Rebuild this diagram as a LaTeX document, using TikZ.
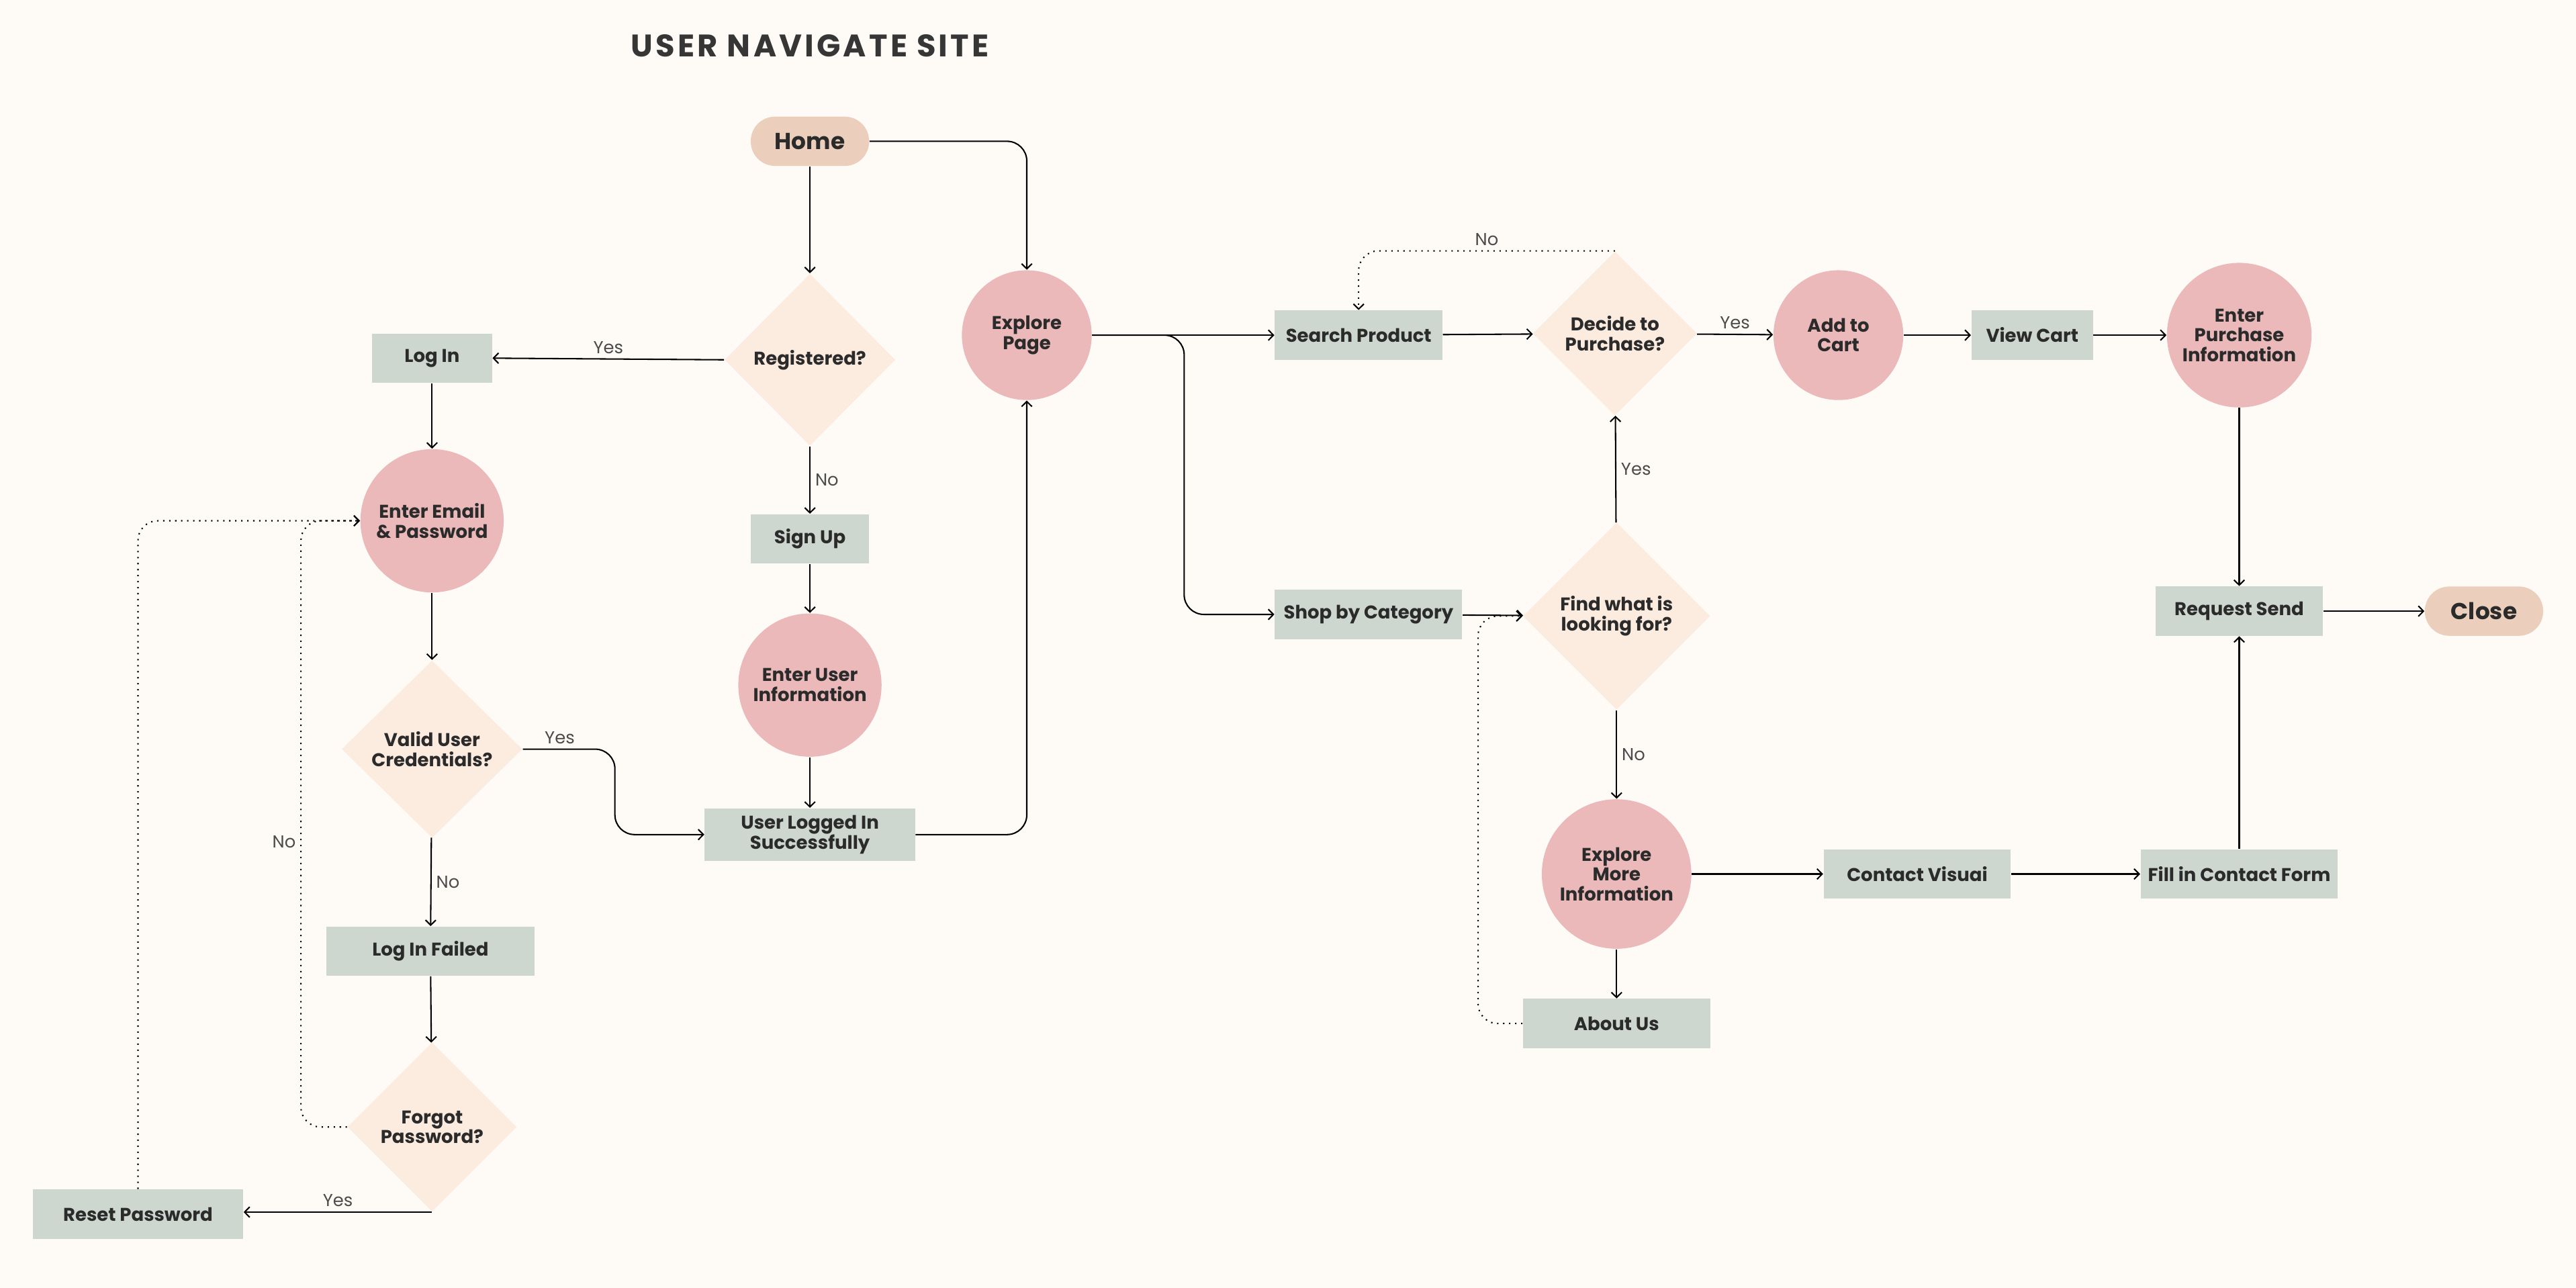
\documentclass[tikz,border=0pt]{standalone}
\usepackage{fontspec}
\setmainfont{Poppins}
\usetikzlibrary{arrows.meta,shapes.geometric,positioning}
\definecolor{paper}{HTML}{FEFBF7}
\definecolor{pillcol}{HTML}{EBCFBC}
\definecolor{diacol}{HTML}{FCEBDF}
\definecolor{circol}{HTML}{EBB9B9}
\definecolor{boxcol}{HTML}{CDD7CF}
\definecolor{ink}{HTML}{2B2B2B}
\tikzstyle{txt} = [text=ink, font=\bfseries\fontsize{8}{8.6}\selectfont, align=center, inner sep=0pt]
\tikzstyle{pill} = [txt, rectangle, rounded corners=0.37cm, fill=pillcol, minimum width=1.8cm, minimum height=0.75cm, font=\bfseries\fontsize{10}{11}\selectfont]
\tikzstyle{box} = [txt, rectangle, fill=boxcol, minimum height=0.75cm]
\tikzstyle{roundnode} = [txt, circle, fill=circol]
\tikzstyle{decision} = [txt, diamond, fill=diacol, aspect=1]
\tikzstyle{flow} = [draw=black, line width=0.6pt, -{Straight Barb[length=2.2pt,width=4.5pt]}, rounded corners=0.3cm]
\tikzstyle{back} = [flow, dotted]
\tikzstyle{answer} = [text=ink!85, font=\fontsize{7.5}{8}\selectfont, inner sep=2pt]

\begin{document}
\begin{tikzpicture}[x=0.025cm, y=-0.025cm]
  \fill[paper] (0,0) rectangle (1568,784);
  \useasboundingbox (0,0) rectangle (1568,784);

  \node (title) at (493,28) [text=ink!95, font=\bfseries\fontsize{13.5}{15}\selectfont\addfontfeatures{LetterSpace=9}] {USER NAVIGATE SITE};

  % login side
  \node (home) at (493,86) [pill] {Home};
  \node (registered) at (493,219) [decision, minimum width=2.6cm, minimum height=2.62cm] {Registered?};
  \node (login) at (263,218) [box, minimum width=1.825cm] {Log In};
  \node (email) at (263,317) [roundnode, minimum size=2.18cm] {Enter Email\\\& Password};
  \node (valid) at (263,456) [decision, minimum width=2.75cm, minimum height=2.7cm] {Valid User\\Credentials?};
  \node (failed) at (262,579) [box, minimum width=3.175cm] {Log In Failed};
  \node (forgot) at (263,686) [decision, minimum width=2.575cm, minimum height=2.575cm] {Forgot\\Password?};
  \node (reset) at (84,739) [box, minimum width=3.2cm] {Reset Password};
  \node (signup) at (493,328) [box, minimum width=1.8cm] {Sign Up};
  \node (userinfo) at (493,417) [roundnode, minimum size=2.18cm] {Enter User\\Information};
  \node (loggedin) at (493,508) [box, minimum width=3.2cm, minimum height=0.8cm] {User Logged In\\Successfully};

  % shopping side
  \node (explore) at (625,204) [roundnode, minimum size=1.975cm] {Explore\\Page};
  \node (search) at (827,204) [box, minimum width=2.55cm] {Search Product};
  \node (decide) at (983,203) [decision, minimum width=2.5cm, minimum height=2.5cm] {Decide to\\Purchase?};
  \node (addcart) at (1119,204) [roundnode, minimum size=1.975cm] {Add to\\Cart};
  \node (viewcart) at (1237,204) [box, minimum width=1.85cm] {View Cart};
  \node (purchase) at (1363,204) [roundnode, minimum size=2.2cm] {Enter\\Purchase\\Information};
  \node (category) at (833,374) [box, minimum width=2.85cm] {Shop by Category};
  \node (find) at (984,375) [decision, minimum width=2.85cm, minimum height=2.85cm] {Find what is\\looking for?};
  \node (more) at (984,532) [roundnode, minimum size=2.275cm] {Explore\\More\\Information};
  \node (about) at (984,623) [box, minimum width=2.85cm] {About Us};
  \node (contact) at (1167,532) [box, minimum width=2.85cm] {Contact Visuai};
  \node (form) at (1363,532) [box, minimum width=3.0cm] {Fill in Contact Form};
  \node (request) at (1363,372) [box, minimum width=2.55cm] {Request Send};
  \node (close) at (1512,372) [pill] {Close};

  % connectors
  \draw[flow] (home) -- (registered);
  \draw[flow] (home.east) -| (explore.north);
  \draw[flow] (registered.west) -- node[answer, above] {Yes} (login.east);
  \draw[flow] (registered) -- node[answer, right] {No} (signup);
  \draw[flow] (signup) -- (userinfo);
  \draw[flow] (userinfo) -- (loggedin);
  \draw[flow] (loggedin.east) -| (explore.south);
  \draw[flow] (login) -- (email);
  \draw[flow] (email) -- (valid);
  \draw[flow] (valid.east) -- node[answer, above, pos=0.4] {Yes} ++(56,0) |- (loggedin.west);
  \draw[flow] (valid) -- node[answer, right] {No} (failed);
  \draw[flow] (failed) -- (forgot);
  \draw[flow] (forgot.south) -- node[answer, above] {Yes} (forgot.south -| reset.east);
  \draw[back] (forgot.west) -- ++(-28,0) |- node[answer, left, pos=0.235] {No} (email.west);
  \draw[back] (reset.north) |- (email.west);

  \draw[flow] (explore.east) -- (search.west);
  \draw[flow] (explore.east) -- ++(56,0) |- (category.west);
  \draw[flow] (search) -- (decide);
  \draw[flow] (decide) -- node[answer, above] {Yes} (addcart);
  \draw[back] (decide.north) -| node[answer, above, pos=0.25] {No} (search.north);
  \draw[flow] (addcart) -- (viewcart);
  \draw[flow] (viewcart) -- (purchase);
  \draw[flow] (purchase) -- (request);
  \draw[flow] (request) -- (close);
  \draw[flow] (category) -- (find);
  \draw[flow] (find) -- node[answer, right] {Yes} (decide);
  \draw[flow] (find) -- node[answer, right] {No} (more);
  \draw[flow] (more) -- (about);
  \draw[flow] (more) -- (contact);
  \draw[flow] (contact) -- (form);
  \draw[flow] (form) -- (request);
  \draw[back] (about.west) -- ++(-27,0) |- (find.west);
\end{tikzpicture}
\end{document}
